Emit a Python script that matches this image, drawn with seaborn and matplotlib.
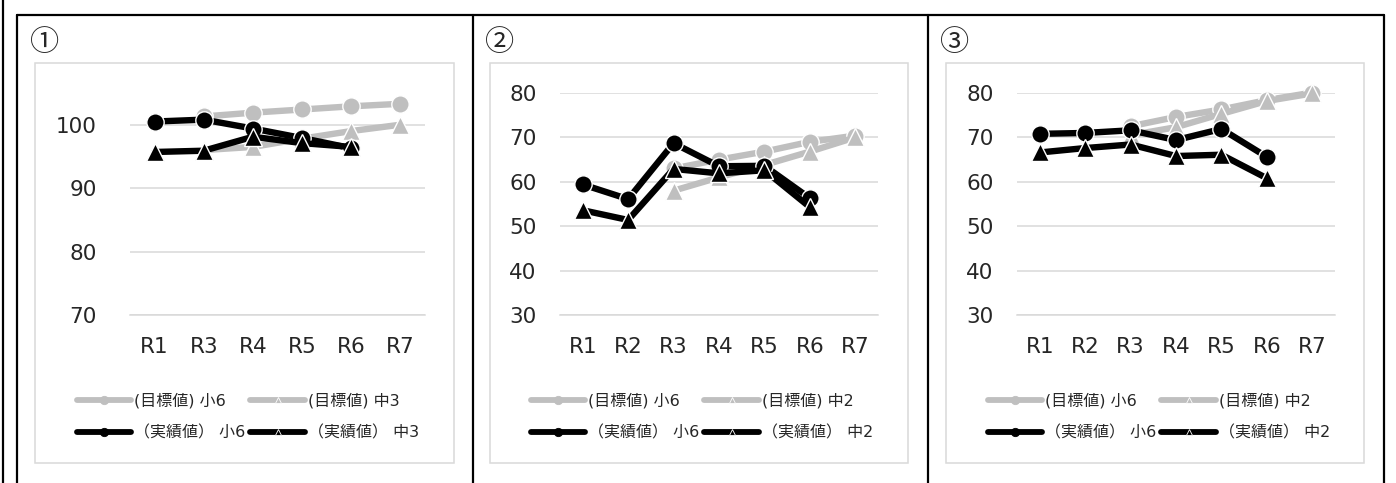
import numpy as np
import pandas as pd
import matplotlib.pyplot as plt
import seaborn as sns
from matplotlib.lines import Line2D
from matplotlib.patches import Rectangle

# %% data (None = no value)
cats_1 = ["R1", "R3", "R4", "R5", "R6", "R7"]
target_sho6_1 = [None, 101.3, 101.9, 102.4, 102.9, 103.3]
target_chu3_1 = [None, 96.0, 96.5, 97.8, 99.0, 100.0]
actual_sho6_1 = [100.5, 100.8, 99.4, 97.9, 96.3, None]
actual_chu3_1 = [95.7, 95.9, 98.1, 97.1, 96.5, None]

cats_2 = ["R1", "R2", "R3", "R4", "R5", "R6", "R7"]
target_sho6_2 = [None, None, 63.0, 65.0, 66.8, 69.0, 70.4]
target_chu2_2 = [None, None, 58.0, 61.0, 63.8, 66.8, 70.0]
actual_sho6_2 = [59.4, 56.1, 68.7, 63.5, 63.6, 56.3, None]
actual_chu2_2 = [53.6, 51.4, 62.9, 61.9, 62.6, 54.3, None]

cats_3 = ["R1", "R2", "R3", "R4", "R5", "R6", "R7"]
target_sho6_3 = [None, None, 72.5, 74.6, 76.3, 78.4, 80.1]
target_chu2_3 = [None, None, 70.5, 72.3, 75.3, 78.2, 79.9]
actual_sho6_3 = [70.8, 71.0, 71.6, 69.4, 71.9, 65.6, None]
actual_chu2_3 = [66.6, 67.6, 68.4, 65.8, 66.1, 60.8, None]

labels_1 = ["(目標値) 小6", "(目標値) 中3", "（実績値） 小6", "（実績値） 中3"]
labels_23 = ["(目標値) 小6", "(目標値) 中2", "（実績値） 小6", "（実績値） 中2"]

GRAY = "#BFBFBF"
GRID = "#D9D9D9"
W, H = 1396, 483

sns.set_style("white")
plt.rcParams["font.family"] = ["DejaVu Sans", "Noto Sans CJK JP"]


def fx(x):
    return x / W


def fy(y):
    return 1 - y / H


fig = plt.figure(figsize=(W / 100, H / 100), dpi=100)

# table borders
for x in [17, 473, 928, 1384]:
    fig.add_artist(Line2D([fx(x), fx(x)], [fy(15), fy(483)], color="black", lw=1.6))
fig.add_artist(Line2D([fx(3), fx(3)], [fy(0), fy(483)], color="black", lw=1.6))
fig.add_artist(Line2D([fx(17), fx(1384)], [fy(15), fy(15)], color="black", lw=1.6))

panels = [
    dict(cats=cats_1, series=[target_sho6_1, target_chu3_1, actual_sho6_1, actual_chu3_1],
         labels=labels_1, ylim=(70, 105), yticks=[70, 80, 90, 100], left=130, width=295,
         box=(35, 454), mark="①", mark_x=44.5, leg_x=248, ypad=24),
    dict(cats=cats_2, series=[target_sho6_2, target_chu2_2, actual_sho6_2, actual_chu2_2],
         labels=labels_23, ylim=(30, 80), yticks=[30, 40, 50, 60, 70, 80], left=560, width=318,
         box=(490, 908), mark="②", mark_x=499.5, leg_x=702, ypad=17),
    dict(cats=cats_3, series=[target_sho6_3, target_chu2_3, actual_sho6_3, actual_chu2_3],
         labels=labels_23, ylim=(30, 80), yticks=[30, 40, 50, 60, 70, 80], left=1017, width=318,
         box=(946, 1364), mark="③", mark_x=954.5, leg_x=1159, ypad=17),
]

styles = [
    dict(color=GRAY, marker="o", ms=12.5),
    dict(color=GRAY, marker="^", ms=13),
    dict(color="black", marker="o", ms=12.5),
    dict(color="black", marker="^", ms=13),
]

for p in panels:
    # chart frame
    fig.add_artist(Rectangle((fx(p["box"][0]), fy(463)), fx(p["box"][1] - p["box"][0]),
                             (463 - 63) / H, fill=False, edgecolor=GRID, lw=1.1))
    fig.text(fx(p["mark_x"]), fy(43), p["mark"], ha="center", va="center",
             fontsize=21, family=["Noto Sans CJK JP"])

    ax = fig.add_axes([fx(p["left"]), fy(315), p["width"] / W, 222 / H])
    handles = []
    for i, (vals, st) in enumerate(zip(p["series"], styles)):
        df = pd.DataFrame({"x": np.arange(len(p["cats"])), "y": vals}).dropna()
        sns.lineplot(data=df, x="x", y="y", ax=ax, color=st["color"], marker=st["marker"],
                     markersize=st["ms"], linewidth=4.6, markeredgecolor="white",
                     markeredgewidth=1.0, zorder=3 + i, clip_on=False, legend=False)
        handles.append(Line2D([], [], color=st["color"], lw=4.2, marker=st["marker"],
                              markersize=6 if st["marker"] == "o" else 5,
                              markeredgecolor=st["color"] if st["marker"] == "o" else "white",
                              markeredgewidth=0.6))

    ax.set_xlim(-0.5, len(p["cats"]) - 0.5)
    ax.set_ylim(*p["ylim"])
    ax.set_xticks(np.arange(len(p["cats"])))
    ax.set_xticklabels(p["cats"])
    ax.set_xticks(np.arange(len(p["cats"]) + 1) - 0.5, minor=True)
    ax.set_yticks(p["yticks"])
    ax.set_xlabel("")
    ax.set_ylabel("")
    ax.tick_params(axis="x", which="major", length=0, pad=16, labelsize=15.5)
    ax.tick_params(axis="x", which="minor", length=6, width=1.1, color=GRID, direction="out")
    ax.tick_params(axis="y", length=0, pad=p["ypad"], labelsize=15.5)
    ax.grid(axis="y", color=GRID, lw=1.1)
    ax.grid(axis="x", visible=False)
    for s in ["top", "left", "right"]:
        ax.spines[s].set_visible(False)
    ax.spines["bottom"].set_color(GRID)
    ax.spines["bottom"].set_linewidth(1.1)
    ax.set_facecolor("none")

    order = [0, 2, 1, 3]
    fig.legend([handles[k] for k in order], [p["labels"][k] for k in order],
               loc="center", bbox_to_anchor=(fx(p["leg_x"]), fy(416.5)), ncol=2,
               frameon=False, fontsize=11.5, handlelength=3.4, handletextpad=0.2,
               columnspacing=0.3, labelspacing=1.05, borderpad=0)

fig.savefig("out.png", dpi=100)
